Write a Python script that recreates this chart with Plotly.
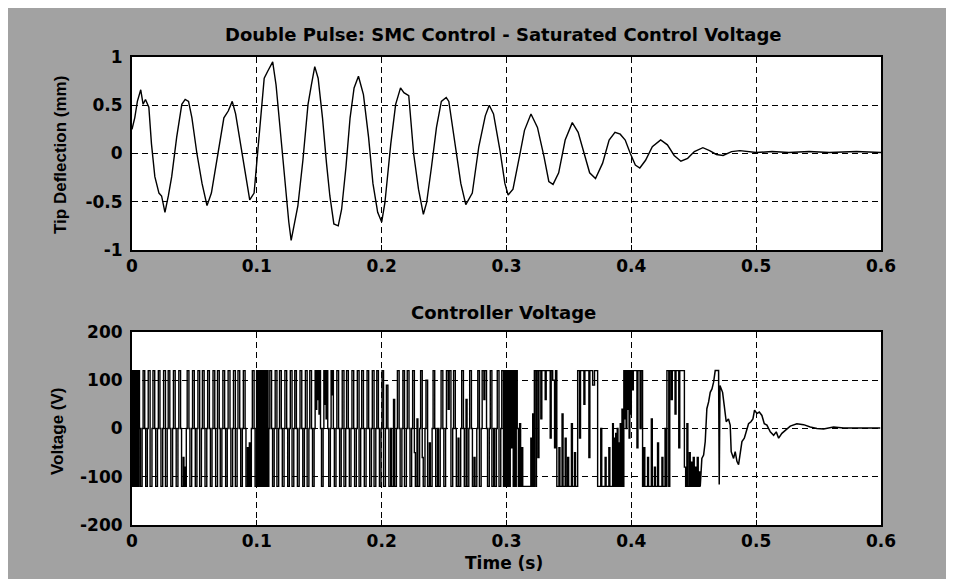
import plotly.graph_objects as go

# ---------------- data: tip deflection (s, mm) ----------------
defl_t = [0.0, 0.0022, 0.0043, 0.0070, 0.0089, 0.0108, 0.0135, 0.0156, 0.0183, 0.0216,
          0.0237, 0.0264, 0.0291, 0.0318, 0.0358, 0.0399, 0.0426, 0.0453, 0.0480, 0.0520,
          0.0561, 0.0601, 0.0636, 0.0682, 0.0736, 0.0771, 0.0803, 0.0830, 0.0871, 0.0911,
          0.0943, 0.0978, 0.1005, 0.1032, 0.1059, 0.1086, 0.1127, 0.1154, 0.1194, 0.1229,
          0.1256, 0.1275, 0.1302, 0.1329, 0.1369, 0.1410, 0.1437, 0.1464, 0.1491, 0.1526,
          0.1558, 0.1585, 0.1617, 0.1652, 0.1679, 0.1714, 0.1747, 0.1779, 0.1814, 0.1854,
          0.1895, 0.1930, 0.1968, 0.2000, 0.2026, 0.2073, 0.2112, 0.2151, 0.2178, 0.2217,
          0.2256, 0.2295, 0.2334, 0.2360, 0.2399, 0.2439, 0.2478, 0.2517, 0.2538, 0.2595,
          0.2634, 0.2674, 0.2726, 0.2778, 0.2830, 0.2862, 0.2896, 0.2948, 0.2987, 0.3013,
          0.3052, 0.3104, 0.3144, 0.3196, 0.3248, 0.3300, 0.3339, 0.3373, 0.3418, 0.3470,
          0.3527, 0.3574, 0.3627, 0.3666, 0.3713, 0.3770, 0.3822, 0.3869, 0.3911, 0.3951,
          0.3992, 0.4032, 0.4068, 0.4114, 0.4168, 0.4235, 0.4289, 0.4343, 0.4397, 0.4451,
          0.4505, 0.4573, 0.4627, 0.4681, 0.4735, 0.4803, 0.4870, 0.4938, 0.5000, 0.5127,
          0.5262, 0.5424, 0.5586, 0.5803, 0.6000]
defl_v = [0.25, 0.37, 0.54, 0.66, 0.51, 0.56, 0.48, 0.10, -0.24, -0.41,
          -0.44, -0.61, -0.44, -0.24, 0.17, 0.51, 0.56, 0.54, 0.37, 0.0,
          -0.31, -0.54, -0.41, -0.07, 0.37, 0.44, 0.54, 0.41, 0.10, -0.24,
          -0.48, -0.41, 0.0, 0.37, 0.78, 0.85, 0.95, 0.71, 0.14, -0.37,
          -0.71, -0.90, -0.71, -0.54, -0.07, 0.51, 0.71, 0.90, 0.78, 0.37,
          -0.10, -0.44, -0.73, -0.75, -0.58, -0.14, 0.37, 0.68, 0.80, 0.61,
          0.17, -0.31, -0.61, -0.71, -0.51, 0.10, 0.51, 0.68, 0.63, 0.60,
          0.0, -0.37, -0.63, -0.51, -0.14, 0.27, 0.54, 0.58, 0.54, 0.03,
          -0.31, -0.53, -0.41, 0.07, 0.39, 0.50, 0.41, 0.03, -0.31, -0.43,
          -0.37, -0.03, 0.24, 0.41, 0.27, -0.03, -0.29, -0.32, -0.20, 0.14,
          0.32, 0.22, -0.03, -0.20, -0.26, -0.10, 0.14, 0.22, 0.20, 0.14,
          0.0, -0.12, -0.15, -0.07, 0.07, 0.14, 0.09, -0.02, -0.08, -0.05,
          0.02, 0.06, 0.03, -0.01, -0.02, 0.02, 0.03, 0.02, 0.01, 0.02,
          0.01, 0.02, 0.01, 0.02, 0.01]

# ---------------- data: controller voltage, (ms, V) step levels ----------------
volt_steps_a = [(0, 120), (0.4, -120), (0.8, 120), (1.2, -120), (1.6, 120), (2.0, -120), (2.4, 120),
                (2.8, -120), (3.2, 120), (3.6, -120), (4.0, 120), (4.4, -120), (4.8, 120), (5.2, -120),
                (5.6, 120)]
volt_steps_b = [(6.0, 0), (6.8, -120), (8.1, 0), (8.9, 120), (10.2, 0), (11.0, -120), (12.3, 0), (13.0, 120),
                (14.5, -120), (16.0, 0), (16.8, 120), (18.2, 0), (19.0, -120), (20.4, 0), (21.1, 120),
                (22.4, 0), (23.2, -120), (24.6, 0), (25.3, 120), (26.8, -120), (28.2, 0), (29.0, 120),
                (30.3, 0), (31.1, -120), (32.5, 0), (33.2, 120), (34.6, 0), (35.4, -120), (36.8, 0),
                (37.5, 120), (38.9, 0), (39.7, -120), (41.0, -60), (41.6, -120), (42.2, -80), (42.8, -120),
                (43.5, 0), (44.2, 120), (45.6, 0), (46.4, -120), (47.8, 0), (48.5, 120), (49.9, 0),
                (50.7, -120), (52.0, 0), (52.8, 120), (54.2, -120), (55.6, 0), (56.4, 120), (57.8, 0),
                (58.5, -120), (59.9, 0), (60.6, 120), (62.0, 0), (62.8, -120), (64.1, 0), (64.9, 120),
                (66.3, 0), (67.0, -120), (68.5, 120), (69.9, 0), (70.7, -120), (72.0, 0), (72.8, 120),
                (74.2, 0), (75.0, -120), (76.3, 0), (77.0, 120), (78.5, 0), (79.2, -120), (80.6, 0),
                (81.3, 120), (82.8, -120), (84.2, 0), (84.9, 120), (86.3, 0), (87.1, -120), (88.4, 0),
                (89.2, 120), (90.6, 0), (91.3, -120), (92.5, -40), (93.2, -120), (94.0, -30), (94.8, -120),
                (95.6, 0), (96.4, 120), (97.8, 0), (98.6, -120), (99.8, 120)]
volt_steps_c = [(100.3, -120), (100.7, 120), (101.1, -120), (101.5, 120), (101.9, -120), (102.3, 120),
                (102.7, -120), (103.1, 120), (103.5, -120), (103.9, 120), (104.3, -120), (104.7, 120),
                (105.1, -120), (105.5, 120), (105.9, -120), (106.3, 120), (106.8, -120), (107.3, 120),
                (107.8, -120), (108.4, 120), (109.0, -120), (109.6, 0)]
volt_steps_d = [(110.4, 120), (111.8, 0), (112.6, -120), (113.9, 0), (114.7, 120), (116.1, -120), (117.5, 0),
                (118.2, 120), (119.6, 0), (120.4, -120), (121.8, 0), (122.5, 120), (123.9, 0), (124.7, -120),
                (126.0, 0), (126.8, 120), (128.2, -120), (129.6, 0), (130.4, 120), (131.7, 0), (132.5, -120),
                (133.9, 0), (134.6, 120), (136.0, 0), (136.8, -120), (138.1, 0), (138.9, 120), (140.3, -120),
                (141.7, 0), (142.4, 120), (143.8, 0), (144.6, -120), (145.9, 0), (146.7, 120),
                (147.4, 40), (148.0, 120), (148.6, 60), (149.2, 120), (149.8, 30), (150.4, 120), (151.0, 0),
                (151.8, -120), (153.1, 0), (153.7, 120), (154.3, 50), (154.9, 120), (155.5, 20), (156.1, 120),
                (156.8, 0), (157.6, -120), (158.9, 0), (159.5, 120), (160.1, 70), (160.7, 120), (161.3, 0),
                (162.1, -120), (163.4, 0), (164.1, 120), (165.5, 0), (166.3, -120), (167.6, 0), (168.4, 120),
                (169.8, -120), (171.2, 0), (171.9, 120), (173.3, 0), (174.1, -120), (175.4, 0), (176.2, 120),
                (177.6, 0), (178.3, -120), (179.7, 0), (180.5, 120), (181.9, -120), (183.2, 0), (184.0, 120),
                (185.4, 0), (186.1, -120), (187.5, 0), (188.3, 120), (189.6, 0), (190.4, -120), (191.8, 0),
                (192.5, 120), (193.9, -120), (195.3, 0), (196.1, 120), (197.4, 0), (198.2, -120), (199.5, 0)]
volt_steps_e = [(200.3, 120), (201.5, -120), (203.0, 0), (203.8, 90), (205.0, 0), (205.8, -120), (207.2, 0),
                (208.0, -120), (209.5, 60), (210.4, -120), (211.8, 0), (212.6, 120), (214.0, 0), (214.8, -120),
                (216.2, 0), (217.0, 120), (218.3, -120), (219.8, 0), (220.5, 120), (221.9, 0), (222.7, -120),
                (224.0, 0), (224.8, 120), (226.2, -50), (227.0, -120), (228.3, 20), (229.0, -120), (230.4, 0),
                (231.2, 120), (232.5, -60), (233.3, -120), (234.7, 0), (235.5, 100), (236.8, -120), (238.2, -30),
                (239.0, -120), (240.4, 0), (241.2, 120), (242.5, 0), (243.3, -120), (244.7, 0), (245.5, -120),
                (246.9, 0), (247.6, 120), (249.0, 0), (249.8, -120), (251.2, 0), (251.9, 120), (253.3, 40),
                (254.1, 120), (255.5, -120), (256.9, 0), (257.6, 120), (259.0, 0), (259.8, -120), (261.2, -20),
                (261.9, -120), (263.3, 0), (264.1, 120), (265.5, 0), (266.2, -120), (267.6, 60), (268.4, -120),
                (269.8, 0), (270.5, 120), (271.9, 0), (272.7, -120), (274.0, -60), (274.8, -120), (276.2, 0),
                (277.0, 120), (278.3, -120), (279.7, 0), (280.5, 120), (281.9, 60), (282.6, 120), (284.0, 0),
                (284.8, -120), (286.2, 0), (287.0, 120), (288.3, -120), (289.7, 0), (290.5, -120), (291.9, 0),
                (292.6, 120), (294.0, -120), (295.4, 0), (296.2, 120), (297.6, -120), (298.3, 120), (299.0, -120),
                (299.8, 120), (300.6, -120), (301.4, 120), (302.2, -120), (303.0, 120), (303.8, -40), (304.6, 120),
                (305.4, -120), (306.2, 120), (307.0, -120), (307.8, 120), (308.6, 0)]
volt_steps_f = [(309.5, -120), (310.5, 10), (311.3, -120), (312.3, -40), (313.0, -120), (319.5, -20),
                (320.2, -120), (321.0, 30), (321.8, -120), (322.3, 120), (323.5, -120), (324.0, 120),
                (325.2, -60), (326.0, 120), (327.5, 20), (328.3, 120), (331.0, 60), (331.8, 120), (335.0, -20),
                (335.8, 120), (337.0, 100), (338.5, -40), (339.3, 120), (340.3, -120), (342.0, -40), (342.8, -120),
                (344.5, 30), (345.3, -120), (347.0, -20), (347.8, -120), (349.0, -60), (349.8, -120), (352.0, 10),
                (352.8, -120), (354.5, -50), (355.3, -120), (357.0, 120), (358.5, -20), (359.3, 120), (362.0, 50),
                (362.8, 120), (366.0, -60), (366.8, 120), (369.0, 90), (370.5, 120), (373.0, -120), (375.5, 0),
                (376.3, -120), (379.0, -60), (379.8, -120), (382.0, -40), (382.8, -120), (385.0, 10),
                (385.6, -120), (386.3, -20), (386.9, -120), (387.5, -10), (388.1, -120), (388.7, 0), (389.3, -120),
                (389.9, -30), (390.5, -120), (391.1, 10), (391.8, -120), (392.5, 40), (393.2, -120)]
volt_steps_g = [(394.0, 120), (394.6, 20), (395.2, 120), (395.8, 0), (396.4, 120), (397.0, 40), (397.6, 120),
                (398.2, -20), (398.8, 120), (399.4, 30), (400.0, 120), (401.0, 80), (401.6, 120), (404.5, -40),
                (405.3, 120), (407.0, 0), (407.8, 120), (409.0, -120), (410.0, -40), (410.8, -120), (413.0, -60),
                (413.8, -120), (416.0, 20), (416.8, -120), (418.5, -80), (419.3, -120), (421.0, -30),
                (421.8, -120), (424.5, -60), (425.3, -120), (427.0, 0), (427.8, -120), (428.5, 120), (430.0, -120),
                (430.8, 120), (432.0, 60), (432.8, 120), (435.0, 30), (435.8, 120), (438.0, -40), (438.8, 120),
                (442.5, -80), (443.5, -120), (444.5, 10), (445.3, -120), (446.5, -50), (447.2, -120), (448.0, -70),
                (448.8, -120), (449.6, -60), (450.4, -120), (451.2, -80), (452.0, -120), (452.8, -60),
                (453.6, -120), (454.4, -90), (455.2, -120)]
# settling tail (drawn as a continuous line)
volt_tail = [(455.2, -120), (456.5, -62), (457.9, -55), (459.2, -27), (460.5, 41), (461.9, 55), (463.2, 75),
             (464.6, 82), (465.9, 96), (467.2, 120), (469.9, 120), (470.4, -116), (471.0, 89), (473.1, 75),
             (474.4, 48), (476.0, 14), (477.8, 20), (479.2, 7), (480.0, -48), (481.9, -62), (483.2, -48),
             (484.6, -68), (485.9, -75), (487.2, -48), (488.6, -27), (490.5, -20), (492.1, -7), (493.9, 10),
             (495.8, 14), (497.4, 20), (498.7, 38), (500.6, 31), (502.5, 34), (504.6, 27), (506.5, 10),
             (508.6, 7), (511.3, -7), (514.0, -14), (516.1, -7), (518.0, -20), (520.6, -10), (524.6, 0),
             (527.3, 5), (532.6, 10), (538.0, 8), (543.3, 3), (548.7, 0), (554.0, -1), (562.0, 3),
             (570.0, 1), (580.7, 1), (599.4, 1)]

x_ticks = [0, 0.1, 0.2, 0.3, 0.4, 0.5, 0.6]
x_tick_text = ["0", "0.1", "0.2", "0.3", "0.4", "0.5", "0.6"]
y1_ticks = [-1, -0.5, 0, 0.5, 1]
y1_tick_text = ["-1", "-0.5", "0", "0.5", "1"]
y2_ticks = [-200, -100, 0, 100, 200]
y2_tick_text = ["-200", "-100", "0", "100", "200"]

title_top = "Double Pulse: SMC Control - Saturated Control Voltage"
title_bottom = "Controller Voltage"
ylabel_top = "Tip Deflection (mm)"
ylabel_bottom = "Voltage (V)"
xlabel = "Time (s)"

# ---------------- build ----------------
steps = volt_steps_a + volt_steps_b + volt_steps_c + volt_steps_d + volt_steps_e + volt_steps_f + volt_steps_g
step_t = [p[0] / 1000.0 for p in steps]
step_v = [p[1] for p in steps]
tail_t = [p[0] / 1000.0 for p in volt_tail]
tail_v = [p[1] for p in volt_tail]

OFF = 8  # page body margin: the figure starts 8 px in from the window corner
W, H = 942, 571
L, R, T, B = 124, 69, 49, 54
PW, PH = W - L - R, H - T - B

def py(pix):  # window pixel y -> paper y
    return (H - B - (pix - OFF)) / PH

def px(pix):  # window pixel x -> paper x
    return ((pix - OFF) - L) / PW

fig = go.Figure()
fig.add_trace(go.Scatter(x=defl_t, y=defl_v, mode="lines", line=dict(color="black", width=1.4),
                         xaxis="x", yaxis="y", showlegend=False))
fig.add_trace(go.Scatter(x=step_t, y=step_v, mode="lines", line=dict(color="black", width=1.4, shape="hv"),
                         xaxis="x2", yaxis="y2", showlegend=False))
fig.add_trace(go.Scatter(x=tail_t, y=tail_v, mode="lines", line=dict(color="black", width=1.5),
                         xaxis="x2", yaxis="y2", showlegend=False))

hfont = dict(family="DejaVu Sans", size=17, color="black", weight="bold")
tfont = dict(family="DejaVu Sans", size=18, color="black", weight="bold")
vfont = dict(family="Liberation Sans", size=17, color="black", weight="bold")

common_axis = dict(showline=True, linecolor="black", linewidth=2, mirror=True,
                   ticks="inside", ticklen=5, tickwidth=1, tickcolor="black",
                   showgrid=True, gridcolor="black", gridwidth=1.2, griddash="6px,4px",
                   zeroline=False, tickfont=hfont)

fig.update_layout(
    width=W, height=H,
    margin=dict(l=L, r=R, t=T, b=B),
    paper_bgcolor="#a2a2a2", plot_bgcolor="white",
    xaxis=dict(domain=[0, 1], anchor="y", range=[0, 0.6], tickvals=x_ticks, ticktext=x_tick_text,
               **common_axis),
    yaxis=dict(domain=[py(250), 1], anchor="x", range=[-1, 1], tickvals=y1_ticks, ticktext=y1_tick_text,
               ticklabelstandoff=4, **common_axis),
    xaxis2=dict(domain=[0, 1], anchor="y2", range=[0, 0.6], tickvals=x_ticks, ticktext=x_tick_text,
                **common_axis),
    yaxis2=dict(domain=[0, py(332)], anchor="x2", range=[-200, 200], tickvals=y2_ticks, ticktext=y2_tick_text,
                ticklabelstandoff=4, **common_axis),
    annotations=[
        dict(text=title_top, x=px(503), y=py(35), xref="paper", yref="paper", showarrow=False,
             font=tfont, xanchor="center", yanchor="middle"),
        dict(text=title_bottom, x=px(503), y=py(312), xref="paper", yref="paper", showarrow=False,
             font=tfont, xanchor="center", yanchor="middle"),
        dict(text=xlabel, x=px(504), y=py(563), xref="paper", yref="paper", showarrow=False,
             font=hfont, xanchor="center", yanchor="middle"),
        dict(text=ylabel_top, x=px(60), y=py(155), xref="paper", yref="paper", showarrow=False,
             font=vfont, textangle=-90, xanchor="center", yanchor="middle"),
        dict(text=ylabel_bottom, x=px(57), y=py(431), xref="paper", yref="paper", showarrow=False,
             font=vfont, textangle=-90, xanchor="center", yanchor="middle"),
    ],
)

fig.write_html("out.html")
